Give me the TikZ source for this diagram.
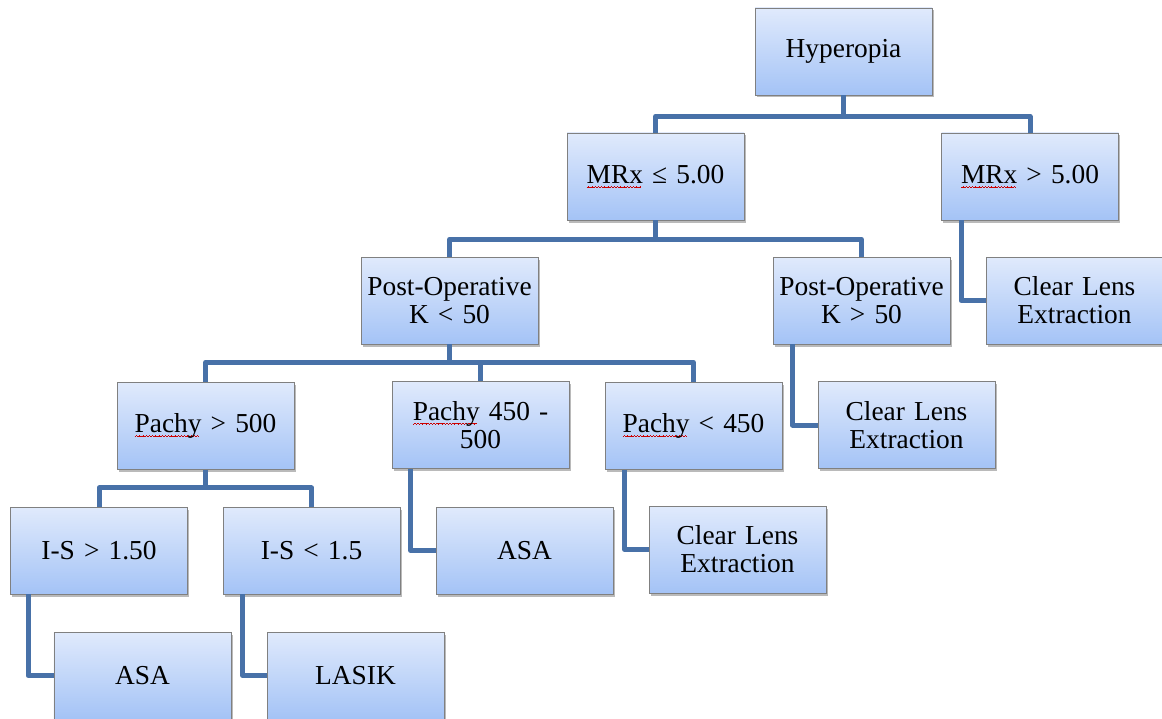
\documentclass[tikz,border=0pt]{standalone}
\usepackage{fontspec}
\setmainfont{Liberation Serif}
\usetikzlibrary{shadows}
\definecolor{conn}{RGB}{72,113,168}
\definecolor{boxtop}{RGB}{224,234,252}
\definecolor{boxbot}{RGB}{164,195,246}
\definecolor{boxline}{RGB}{128,128,128}
\newcommand\spellwave[1]{\leavevmode\setbox0\hbox{#1}\rlap{\textcolor{red!80!black}{\hbox to\wd0{\leaders\hbox{\rule[-4.2bp]{0.8bp}{0.6bp}\rule[-3.6bp]{0.8bp}{0.6bp}\rule[-3.0bp]{0.8bp}{0.6bp}\rule[-3.6bp]{0.8bp}{0.6bp}}\hfil}}}\box0\relax}
\tikzset{
  box/.style={draw=boxline, line width=0.8bp, top color=boxtop, bottom color=boxbot,
    minimum width=177bp, minimum height=87bp, inner sep=0pt, text width=177bp, align=center,
    font=\fontsize{27.5}{28}\selectfont,
    drop shadow={shadow xshift=1.5bp, shadow yshift=-2.5bp, opacity=0.45, fill=black!60}},
  link/.style={draw=conn, line width=5bp, line join=round}
}
\begin{document}
\begin{tikzpicture}[x=1bp,y=-1bp]
\useasboundingbox (0,0) rectangle (1162,719);
% boxes
\node[box] (hyp) at (843.5,51.5) {Hyperopia};
\node[box] (mrxle) at (655.5,176.5) {\spellwave{MRx} ≤ 5.00};
\node[box] (mrxgt) at (1030,176.5) {\spellwave{MRx} > 5.00};
\node[box] (pok50) at (449.5,300.5) {Post-Operative\\K < 50};
\node[box] (pokgt) at (861.5,300.5) {Post-Operative\\K > 50};
\node[box] (cle1) at (1074.5,300.5) {Clear Lens\\Extraction};
\node[box] (p500) at (205.5,426) {\spellwave{Pachy} > 500};
\node[box] (p450) at (480.5,425) {\spellwave{Pachy} 450 -\\500};
\node[box] (plt450) at (693.5,426) {\spellwave{Pachy} < 450};
\node[box] (cle2) at (906.5,425) {Clear Lens\\Extraction};
\node[box] (is150) at (99,550.5) {I-S > 1.50};
\node[box] (is15) at (311.5,550.5) {I-S < 1.5};
\node[box] (asa1) at (524.5,550.5) {ASA};
\node[box] (cle3) at (737.5,549.5) {Clear Lens\\Extraction};
\node[box] (asa2) at (142.5,675.5) {ASA};
\node[box] (lasik) at (355.5,675.5) {LASIK};
% tree connectors
\path[link] (hyp.south) -- ++(0,21) -| (mrxle.north);
\path[link] (hyp.south) -- ++(0,21) -| (mrxgt.north);
\path[link] (mrxle.south) -- ++(0,19) -| (pok50.north);
\path[link] (mrxle.south) -- ++(0,19) -| (pokgt.north);
\path[link] (pok50.south) -- ++(0,18) -| (p500.north);
\path[link] (pok50.south) -- ++(0,18) -| (p450.north);
\path[link] (pok50.south) -- ++(0,18) -| (plt450.north);
\path[link] (p500.south) -- ++(0,18) -| (is150.north);
\path[link] (p500.south) -- ++(0,18) -| (is15.north);
% side connectors
\path[link] ([xshift=20bp]mrxgt.south west) |- (cle1.west);
\path[link] ([xshift=20bp]pokgt.south west) |- (cle2.west);
\path[link] ([xshift=19bp]p450.south west) |- (asa1.west);
\path[link] ([xshift=20bp]plt450.south west) |- (cle3.west);
\path[link] ([xshift=18bp]is150.south west) |- (asa2.west);
\path[link] ([xshift=20bp]is15.south west) |- (lasik.west);
\end{tikzpicture}
\end{document}
